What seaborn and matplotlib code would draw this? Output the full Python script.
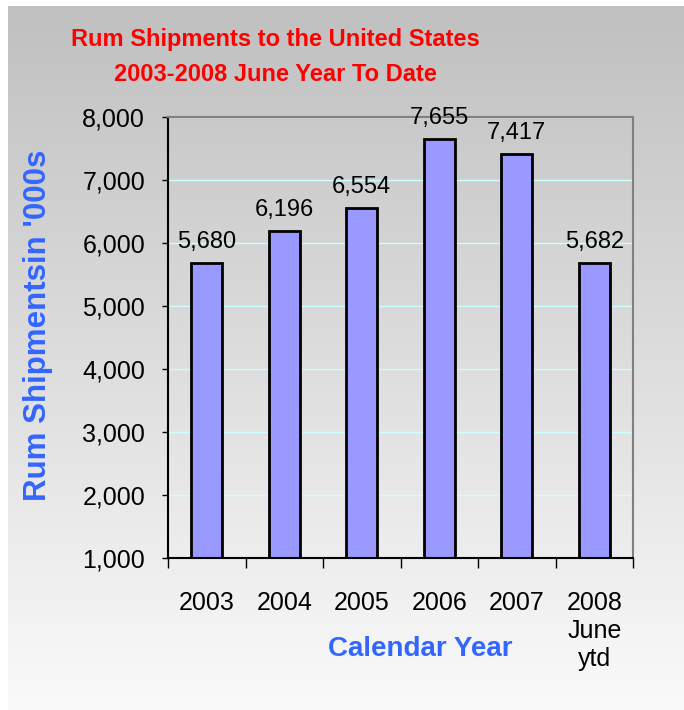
import numpy as np
import pandas as pd
import matplotlib
matplotlib.use('Agg')
import matplotlib.pyplot as plt
import seaborn as sns
from matplotlib.colors import LinearSegmentedColormap
from matplotlib.ticker import FuncFormatter

# 데이터
years = ['2003', '2004', '2005', '2006', '2007', '2008\nJune\nytd']
shipments = [5680, 6196, 6554, 7655, 7417, 5682]
y_ticks = [1000, 2000, 3000, 4000, 5000, 6000, 7000, 8000]

df = pd.DataFrame({'year': years, 'shipments': shipments})

sns.set_style('white')
plt.rcParams['font.family'] = ['Liberation Sans', 'DejaVu Sans']
plt.rcParams['text.color'] = 'black'
plt.rcParams['xtick.color'] = 'black'
plt.rcParams['ytick.color'] = 'black'

fig = plt.figure(figsize=(6.84, 7.10), dpi=100)

# 배경 그라데이션
bg = fig.add_axes([8/684, 0, 1 - 8/684, 1 - 6/710], zorder=0)
grad = np.linspace(0, 1, 256).reshape(-1, 1)
cmap = LinearSegmentedColormap.from_list('bg', ['#c0c0c0', '#fafafa'])
bg.imshow(grad, aspect='auto', cmap=cmap, extent=[0, 1, 0, 1], origin='upper')
bg.axis('off')

# 막대그래프
ax = fig.add_axes([168/684, 1 - 558/710, (633 - 168)/684, (558 - 117)/710], zorder=1)
ax.patch.set_alpha(0)
sns.barplot(data=df, x='year', y='shipments', color='#9999ff', saturation=1,
            edgecolor='black', linewidth=2, width=0.4, ax=ax)

ax.set_ylim(1000, 8000)
ax.set_xlim(-0.5, 5.5)
ax.set_yticks(y_ticks)
ax.yaxis.set_major_formatter(FuncFormatter(lambda v, p: f'{int(v):,}'))
ax.yaxis.grid(True, color='#ccffff', linewidth=1)
ax.set_axisbelow(True)

for s in ['left', 'bottom']:
    ax.spines[s].set_color('black')
    ax.spines[s].set_linewidth(1.5)
for s in ['top', 'right']:
    ax.spines[s].set_color('#808080')
    ax.spines[s].set_linewidth(1.5)

ax.tick_params(axis='y', direction='out', length=4.5, width=1, pad=12, labelsize=18,
               left=True, labelcolor='black')
ax.set_xticks(range(len(years)))
ax.set_xticklabels(years)
ax.tick_params(axis='x', which='major', length=0, pad=24, labelsize=18, labelcolor='black')
ax.set_xticks(np.arange(-0.5, len(years)), minor=True)
ax.tick_params(axis='x', which='minor', direction='out', length=7, width=1, bottom=True)

ax.set_xlabel('')
ax.set_ylabel('')

ax.bar_label(ax.containers[0], labels=[f'{v:,}' for v in shipments],
             padding=7, fontsize=17, color='black', clip_on=False)

# 제목 및 축 라벨
fig.text(275/684, 1 - 57/710, 'Rum Shipments to the United States\n2003-2008 June Year To Date',
         ha='center', va='center', color='#ff0000', fontsize=17, fontweight='bold',
         linespacing=1.7)
fig.text(38/684, 1 - 325/710, "Rum Shipmentsin '000s", rotation=90,
         ha='center', va='center', color='#3366ff', fontsize=22.5, fontweight='bold')
fig.text(420/684, 1 - 649/710, 'Calendar Year', ha='center', va='center',
         color='#3366ff', fontsize=20, fontweight='bold')

fig.savefig('out.png', dpi=100)
